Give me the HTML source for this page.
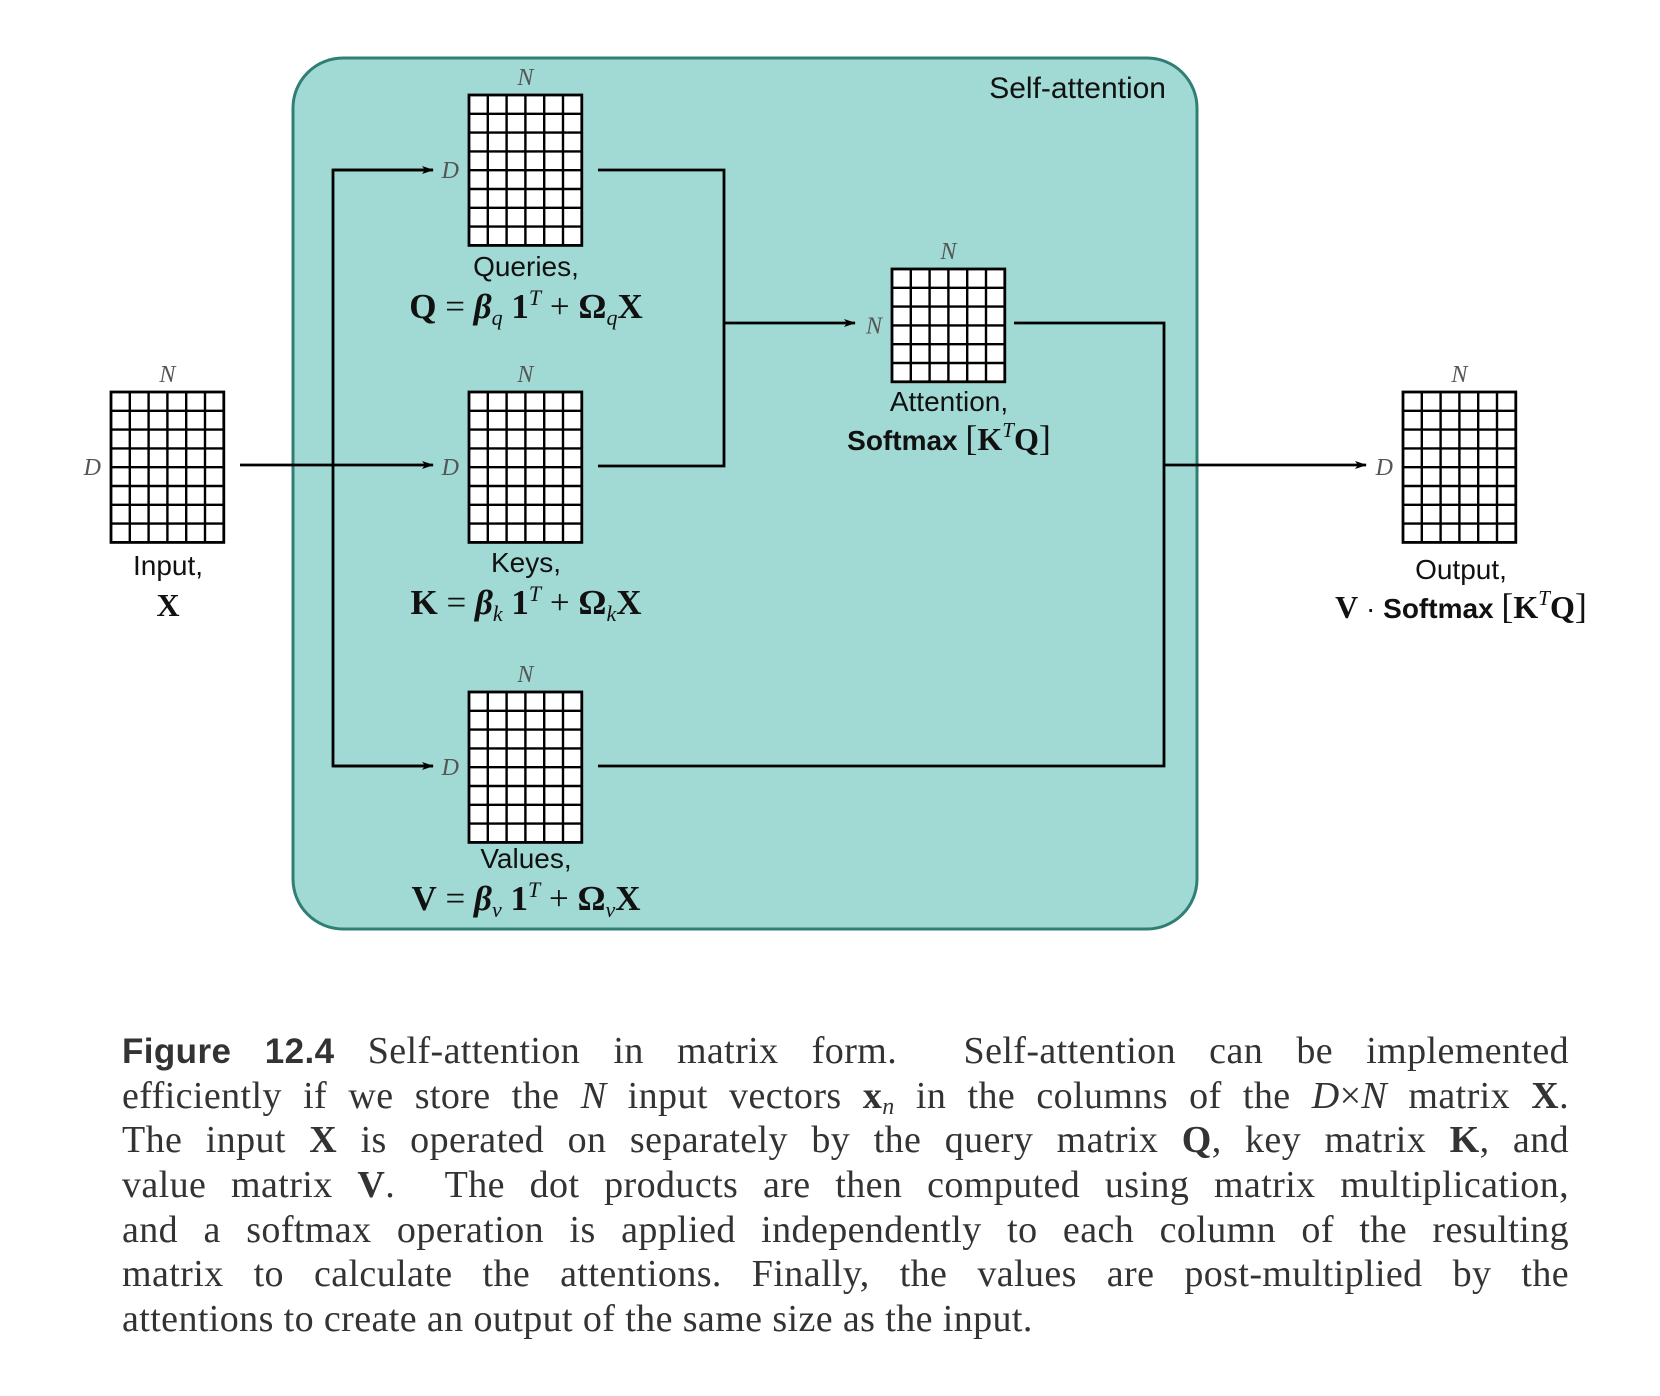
<!DOCTYPE html>
<html><head><meta charset="utf-8">
<style>
html,body{margin:0;padding:0;background:#fff;}
body{width:1660px;height:1396px;position:relative;overflow:hidden;}
svg{position:absolute;left:0;top:0;}
.cap{position:absolute;left:122px;width:1447px;font-family:"Liberation Serif",serif;font-size:38px;letter-spacing:0.4px;color:#333;line-height:44.7px;top:1029px;}
.cap div{height:44.7px;text-align:justify;text-align-last:justify;white-space:nowrap;}
.cap div.last{text-align-last:left;}
.cap b.fig{font-family:"Liberation Sans",sans-serif;font-weight:bold;font-size:35px;}
.cap sub{font-size:24px;line-height:0;vertical-align:-6px;}
</style></head><body>
<svg id="fig" width="1660" height="1000" viewBox="0 0 1660 1000">
<defs><marker id="ah" markerWidth="12" markerHeight="8" refX="11" refY="4" orient="auto" markerUnits="userSpaceOnUse"><path d="M0,0 L12,4 L0,8 L3,4 Z" fill="#000"/></marker></defs>
<rect x="293" y="58" width="904" height="871" rx="50" ry="50" fill="#a1d9d4" stroke="#2f7f75" stroke-width="3"/>
<text x="1166" y="98" text-anchor="end" font-family="Liberation Sans, sans-serif" font-size="30" fill="#111">Self-attention</text>
<g id="wires" fill="none" stroke="#000" stroke-width="2.8">
<path d="M240,465 L433,465" marker-end="url(#ah)"/>
<path d="M433,170 L333,170 L333,766 L433,766"/>
<path d="M333,170 L433,170" marker-end="url(#ah)"/>
<path d="M333,766 L433,766" marker-end="url(#ah)"/>
<path d="M598,170 L724,170 L724,466 L598,466"/>
<path d="M724,323 L855,323" marker-end="url(#ah)"/>
<path d="M1014,323 L1164,323 L1164,766 L598,766"/>
<path d="M1164,465 L1366,465" marker-end="url(#ah)"/>
</g>
<g id="grids"></g>
<g font-family="Liberation Sans, sans-serif" font-size="28" fill="#111" text-anchor="middle">
<text x="168" y="575">Input,</text>
<text x="168" y="616" font-family="Liberation Serif, serif" font-weight="bold" font-size="32">X</text>
<text x="526" y="276">Queries,</text>
<text x="526" y="318" font-family="Liberation Serif, serif" font-weight="bold" font-size="35">Q<tspan font-weight="normal"> = </tspan><tspan font-style="italic">β</tspan><tspan font-size="22" font-style="italic" font-weight="normal" dy="7">q</tspan><tspan dy="-7"> 1</tspan><tspan font-size="22" font-style="italic" font-weight="normal" dy="-13">T</tspan><tspan font-weight="normal" dy="13"> + </tspan>Ω<tspan font-size="22" font-style="italic" font-weight="normal" dy="7">q</tspan><tspan dy="-7">X</tspan></text>
<text x="526" y="572">Keys,</text>
<text x="526" y="614" font-family="Liberation Serif, serif" font-weight="bold" font-size="35">K<tspan font-weight="normal"> = </tspan><tspan font-style="italic">β</tspan><tspan font-size="22" font-style="italic" font-weight="normal" dy="7">k</tspan><tspan dy="-7"> 1</tspan><tspan font-size="22" font-style="italic" font-weight="normal" dy="-13">T</tspan><tspan font-weight="normal" dy="13"> + </tspan>Ω<tspan font-size="22" font-style="italic" font-weight="normal" dy="7">k</tspan><tspan dy="-7">X</tspan></text>
<text x="526" y="868">Values,</text>
<text x="526" y="910" font-family="Liberation Serif, serif" font-weight="bold" font-size="35">V<tspan font-weight="normal"> = </tspan><tspan font-style="italic">β</tspan><tspan font-size="22" font-style="italic" font-weight="normal" dy="7">v</tspan><tspan dy="-7"> 1</tspan><tspan font-size="22" font-style="italic" font-weight="normal" dy="-13">T</tspan><tspan font-weight="normal" dy="13"> + </tspan>Ω<tspan font-size="22" font-style="italic" font-weight="normal" dy="7">v</tspan><tspan dy="-7">X</tspan></text>
<text x="949" y="411">Attention,</text>
<text x="949" y="450"><tspan font-weight="bold">Softmax </tspan><tspan font-family="Liberation Serif, serif" font-size="36">[</tspan><tspan font-family="Liberation Serif, serif" font-weight="bold" font-size="32">K</tspan><tspan font-family="Liberation Serif, serif" font-style="italic" font-size="21" dy="-13">T</tspan><tspan font-family="Liberation Serif, serif" font-weight="bold" font-size="32" dy="13">Q</tspan><tspan font-family="Liberation Serif, serif" font-size="36">]</tspan></text>
<text x="1461" y="579">Output,</text>
<text x="1461" y="618"><tspan font-family="Liberation Serif, serif" font-weight="bold" font-size="32">V</tspan> · <tspan font-weight="bold">Softmax </tspan><tspan font-family="Liberation Serif, serif" font-size="36">[</tspan><tspan font-family="Liberation Serif, serif" font-weight="bold" font-size="32">K</tspan><tspan font-family="Liberation Serif, serif" font-style="italic" font-size="21" dy="-13">T</tspan><tspan font-family="Liberation Serif, serif" font-weight="bold" font-size="32" dy="13">Q</tspan><tspan font-family="Liberation Serif, serif" font-size="36">]</tspan></text>
</g>
</svg>
<div class="cap">
<div><b class="fig">Figure 12.4</b> Self-attention in matrix form. &nbsp;Self-attention can be implemented</div>
<div>efficiently if we store the <i>N</i> input vectors <b>x</b><sub><i>n</i></sub> in the columns of the <i>D</i>×<i>N</i> matrix <b>X</b>.</div>
<div>The input <b>X</b> is operated on separately by the query matrix <b>Q</b>, key matrix <b>K</b>, and</div>
<div>value matrix <b>V</b>. &nbsp;The dot products are then computed using matrix multiplication,</div>
<div>and a softmax operation is applied independently to each column of the resulting</div>
<div>matrix to calculate the attentions. Finally, the values are post-multiplied by the</div>
<div class="last">attentions to create an output of the same size as the input.</div>
</div>
<script>
const matNames = ["input","queries","keys","values","attention","output"];
const matX = [111,469,469,469,892,1403];
const matY = [392,95,392,692,269,392];
const matCols = [6,6,6,6,6,6];
const matRows = [8,8,8,8,6,8];
const rowLabel = ["D","D","D","D","N","D"];
const cell = 18.8;
const g = document.getElementById('grids');
const NS = "http://www.w3.org/2000/svg";
for (let i = 0; i < matNames.length; i++) {
  const grp = document.createElementNS(NS, 'g');
  
  
  const w = matCols[i] * cell, h = matRows[i] * cell;
  const r = document.createElementNS(NS, 'rect');
  r.setAttribute('x', matX[i]); r.setAttribute('y', matY[i]);
  r.setAttribute('width', w); r.setAttribute('height', h);
  r.setAttribute('fill', '#fff'); r.setAttribute('stroke', '#000'); r.setAttribute('stroke-width', '2.8');
  
  
  grp.appendChild(r);
  let d = '';
  for (let c = 1; c < matCols[i]; c++) d += `M${matX[i] + c * cell},${matY[i]}v${h}`;
  for (let k = 1; k < matRows[i]; k++) d += `M${matX[i]},${matY[i] + k * cell}h${w}`;
  const p = document.createElementNS(NS, 'path');
  p.setAttribute('d', d); p.setAttribute('stroke', '#000'); p.setAttribute('stroke-width', '2.4'); p.setAttribute('fill', 'none');
  
  
  grp.appendChild(p);
  const tn = document.createElementNS(NS, 'text');
  tn.setAttribute('x', matX[i] + w / 2); tn.setAttribute('y', matY[i] - 10);
  tn.setAttribute('text-anchor', 'middle'); tn.setAttribute('font-family', 'Liberation Serif, serif');
  tn.setAttribute('font-style', 'italic'); tn.setAttribute('font-size', '24'); tn.setAttribute('fill', '#555');
  tn.textContent = 'N';
  
  
  grp.appendChild(tn);
  const td = document.createElementNS(NS, 'text');
  td.setAttribute('x', matX[i] - 10); td.setAttribute('y', matY[i] + h / 2 + 8);
  td.setAttribute('text-anchor', 'end'); td.setAttribute('font-family', 'Liberation Serif, serif');
  td.setAttribute('font-style', 'italic'); td.setAttribute('font-size', '24'); td.setAttribute('fill', '#555');
  td.textContent = rowLabel[i];
  
  
  grp.appendChild(td);
  g.appendChild(grp);
}
</script>
</body></html>
